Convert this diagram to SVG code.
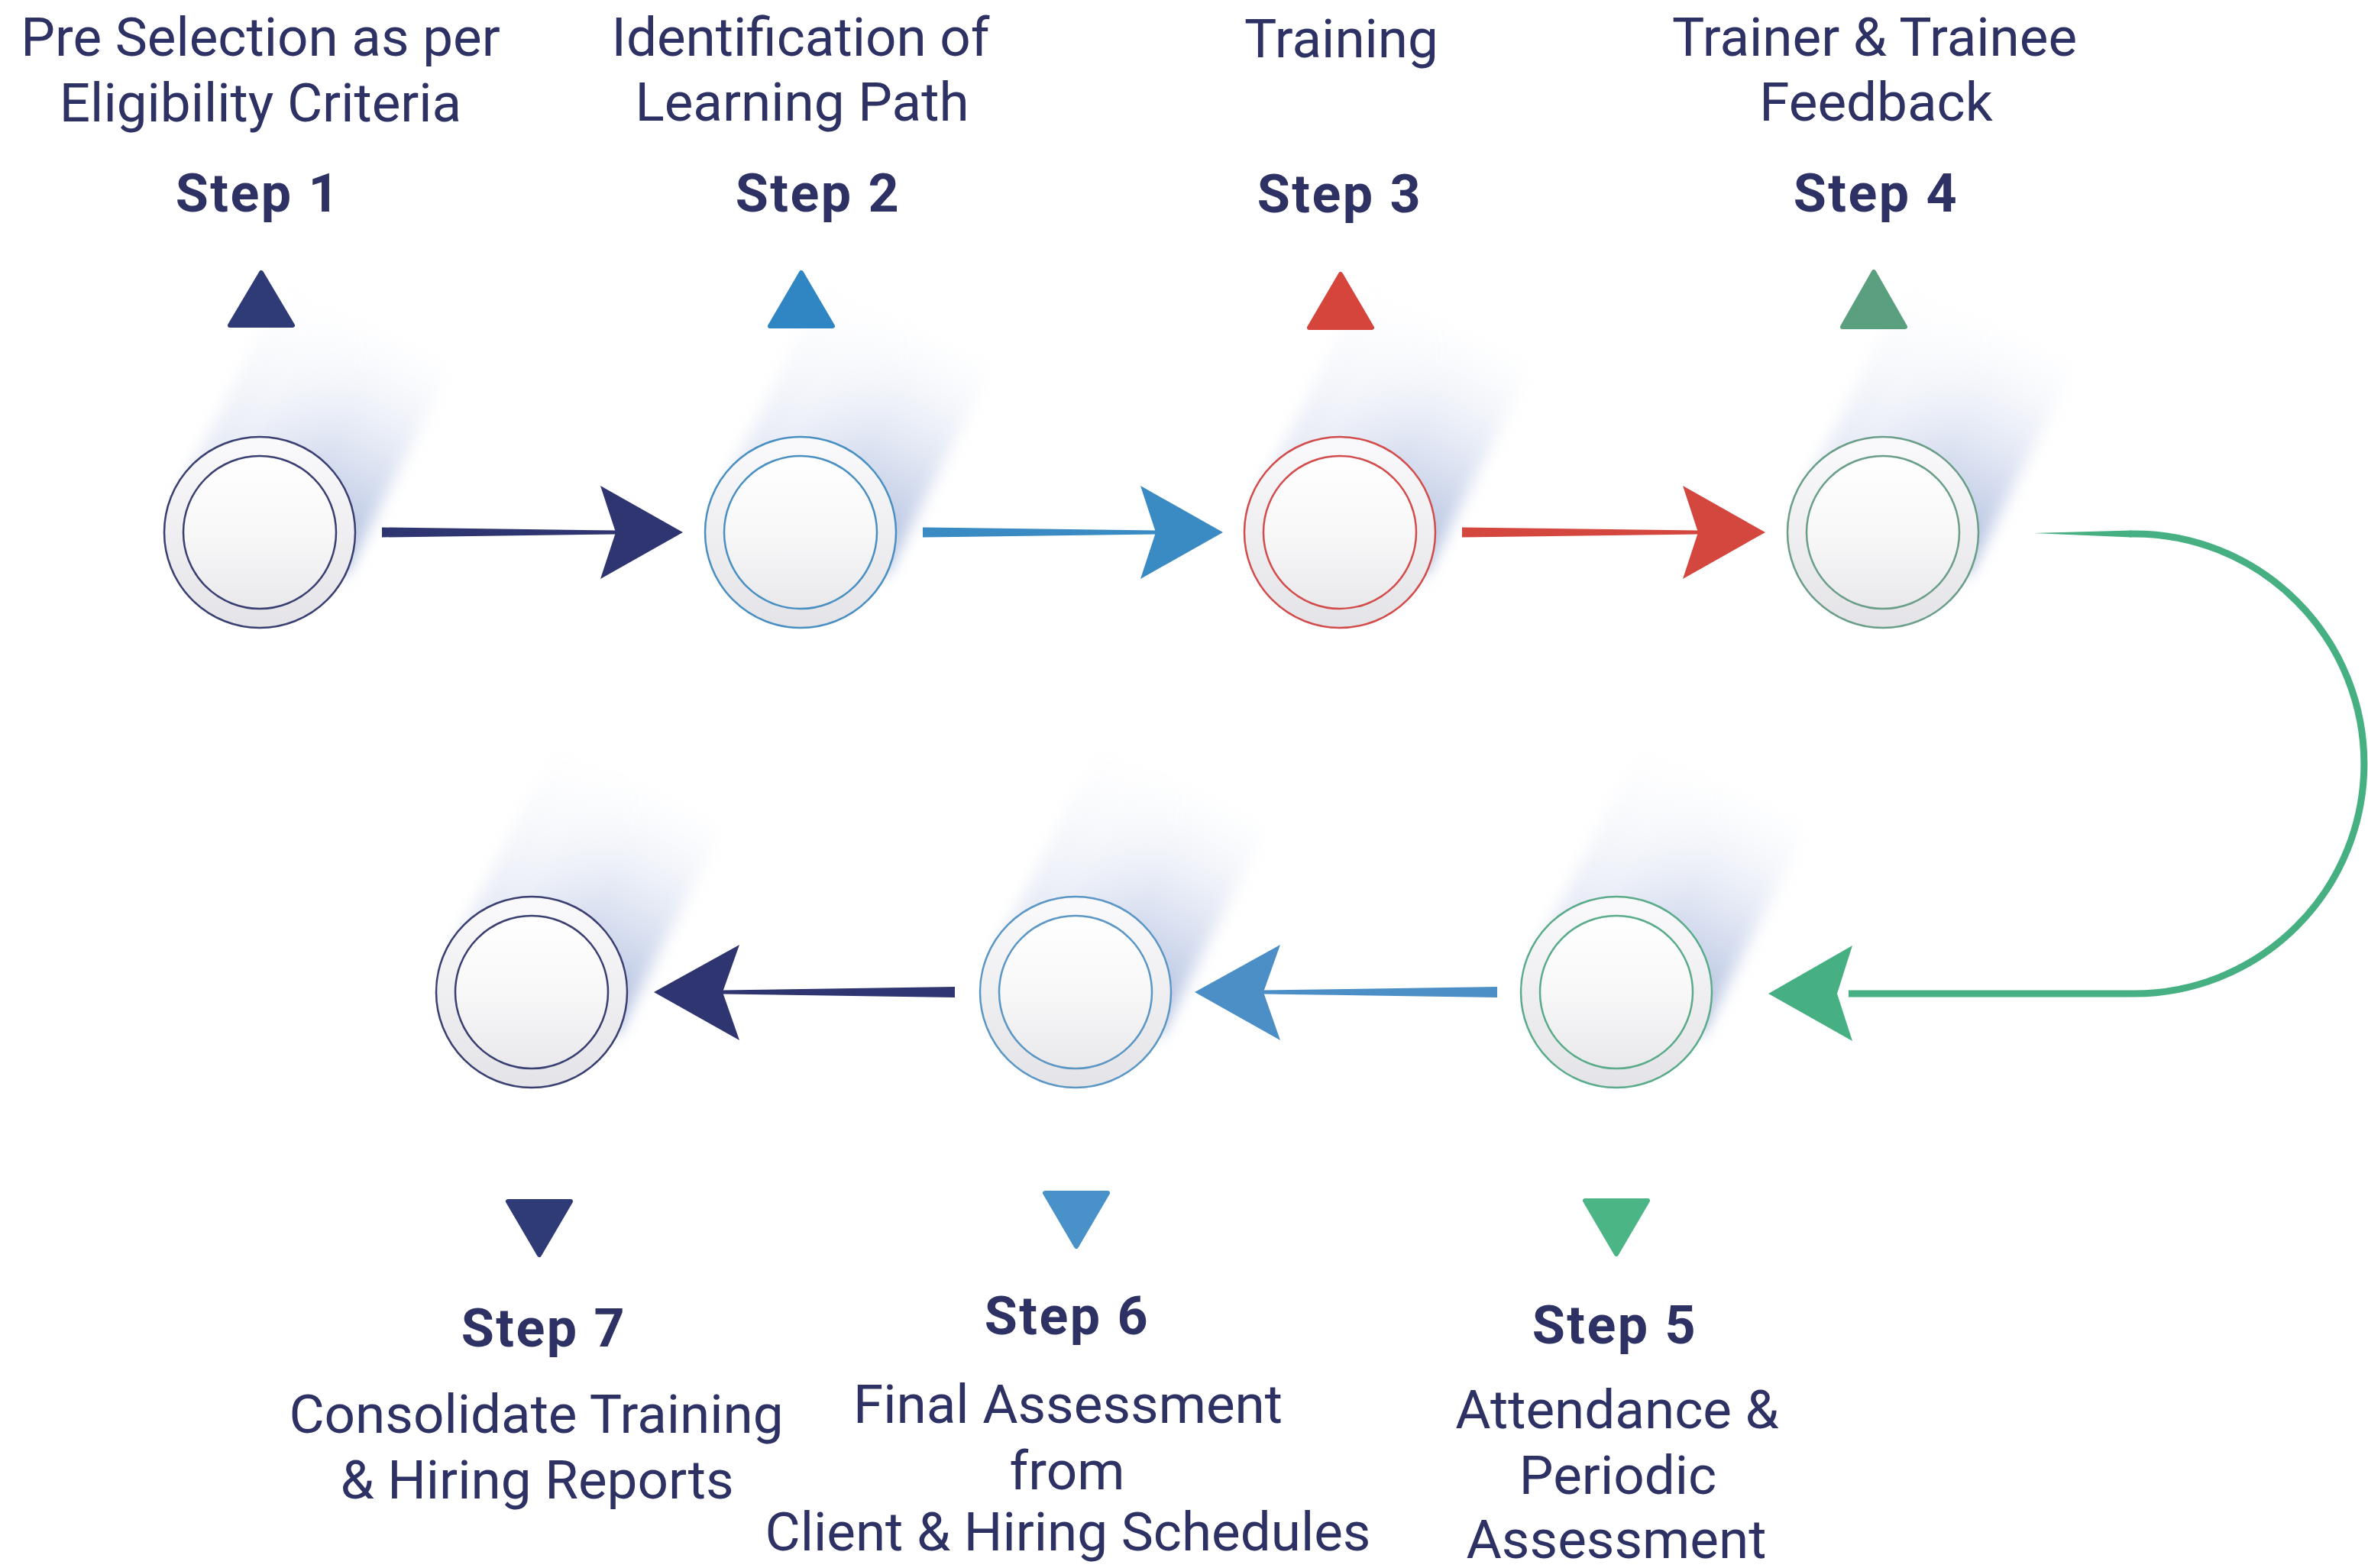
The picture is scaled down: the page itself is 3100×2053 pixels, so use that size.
<svg xmlns="http://www.w3.org/2000/svg" width="3100" height="2053" viewBox="0 0 3100 2053">
<defs>
<style>
.lbl{font-family:Roboto,"Liberation Sans",sans-serif;font-size:71px;fill:#2d3163;text-anchor:middle}
.stp{font-family:Roboto,"Liberation Sans",sans-serif;font-size:70px;font-weight:bold;letter-spacing:2.5px;fill:#2d3163;text-anchor:middle}
.ring{fill:url(#ringG);stroke-width:2.5}
.disc{fill:url(#discG);stroke-width:2.5}
.tri{stroke-width:6;stroke-linejoin:round}
</style>
<linearGradient id="ringG" x1="0" y1="0" x2="0" y2="1">
<stop offset="0" stop-color="#fafafc"/>
<stop offset="1" stop-color="#e4e4e8"/>
</linearGradient>
<linearGradient id="discG" x1="0" y1="0" x2="0" y2="1">
<stop offset="0" stop-color="#ffffff"/>
<stop offset="0.5" stop-color="#f8f8f9"/>
<stop offset="1" stop-color="#e9e9ec"/>
</linearGradient>
<linearGradient id="shG" x1="0" y1="1" x2="0" y2="0">
<stop offset="0" stop-color="#8ea2cf" stop-opacity="0.8"/>
<stop offset="0.4" stop-color="#a6b6dc" stop-opacity="0.45"/>
<stop offset="0.8" stop-color="#c3cfe9" stop-opacity="0.12"/>
<stop offset="1" stop-color="#d4ddef" stop-opacity="0"/>
</linearGradient>
<linearGradient id="shM" x1="0" y1="0" x2="1" y2="0">
<stop offset="0" stop-color="#fff" stop-opacity="0.35"/>
<stop offset="0.3" stop-color="#fff" stop-opacity="0.45"/>
<stop offset="0.6" stop-color="#fff" stop-opacity="1"/>
<stop offset="1" stop-color="#fff" stop-opacity="1"/>
</linearGradient>
<mask id="shMask" maskContentUnits="userSpaceOnUse" x="-260" y="-460" width="520" height="540">
<rect x="-160" y="-440" width="320" height="500" fill="url(#shM)"/>
</mask>
<filter id="blur" x="-50%" y="-50%" width="200%" height="200%">
<feGaussianBlur stdDeviation="10"/>
</filter>
<g id="shadow">
<g mask="url(#shMask)">
<rect x="-118" y="-320" width="243" height="320" fill="url(#shG)" filter="url(#blur)"/>
</g>
</g>
</defs>
<rect width="3100" height="2053" fill="#ffffff"/>

<g id="shadows">
<use href="#shadow" transform="translate(340,697) rotate(27)"/>
<use href="#shadow" transform="translate(1048,697) rotate(27)"/>
<use href="#shadow" transform="translate(1754,697) rotate(27)"/>
<use href="#shadow" transform="translate(2465,697) rotate(27)"/>
<use href="#shadow" transform="translate(696,1299) rotate(27)"/>
<use href="#shadow" transform="translate(1408,1299) rotate(27)"/>
<use href="#shadow" transform="translate(2116,1299) rotate(27)"/>
</g>

<g id="connectors">
<g fill="#2f3570">
<polygon points="500,690.5 806,694.5 806,699.5 500,703.5"/>
<polygon points="894,697 786,636 806,697 786,758"/>
</g>
<g fill="#3a8ac4">
<polygon points="1208,690.5 1513,694.5 1513,699.5 1208,703.5"/>
<polygon points="1601,697 1493,636 1513,697 1493,758"/>
</g>
<g fill="#d4473f">
<polygon points="1914,690.5 2223,694.5 2223,699.5 1914,703.5"/>
<polygon points="2311,697 2203,636 2223,697 2203,758"/>
</g>
<g fill="#46b083">
<polygon points="2662,698 2790,694.5 2790,703.5"/>
<path d="M2788,699 L2794,699 A301,301 0 0 1 2794,1301 L2420,1301" fill="none" stroke="#46b083" stroke-width="9"/>
<polygon points="2315,1301 2425,1238 2405,1301 2425,1363"/>
</g>
<g fill="#4b8fc6">
<polygon points="1960,1292 1654,1296.5 1654,1301.5 1960,1306"/>
<polygon points="1564,1299 1676,1237 1654,1299 1676,1362"/>
</g>
<g fill="#2f3570">
<polygon points="1250,1292 946,1296.5 946,1301.5 1250,1306"/>
<polygon points="856,1299 968,1237 946,1299 968,1362"/>
</g>
</g>

<g id="step1">
<text class="lbl" x="341" y="73">Pre Selection as per</text>
<text class="lbl" x="341" y="159">Eligibility Criteria</text>
<text class="stp" x="338" y="277">Step 1</text>
<path class="tri" fill="#2f3b76" stroke="#2f3b76" d="M342,357 L383,426 L301,426 Z"/>
<circle class="ring" stroke="#3a3f72" cx="340" cy="697" r="125"/>
<circle class="disc" stroke="#3a3f72" cx="340" cy="697" r="100"/>
</g>

<g id="step2">
<text class="lbl" x="1048" y="73">Identification of</text>
<text class="lbl" x="1050" y="158">Learning Path</text>
<text class="stp" x="1071" y="277">Step 2</text>
<path class="tri" fill="#2f86c3" stroke="#2f86c3" d="M1049,357 L1090,427 L1008,427 Z"/>
<circle class="ring" stroke="#4a8fc2" cx="1048" cy="697" r="125"/>
<circle class="disc" stroke="#4a8fc2" cx="1048" cy="697" r="100"/>
</g>

<g id="step3">
<text class="lbl" x="1756" y="75">Training</text>
<text class="stp" x="1754" y="278">Step 3</text>
<path class="tri" fill="#d5453c" stroke="#d5453c" d="M1755,359 L1796,429 L1714,429 Z"/>
<circle class="ring" stroke="#d34c4c" cx="1754" cy="697" r="125"/>
<circle class="disc" stroke="#d34c4c" cx="1754" cy="697" r="100"/>
</g>

<g id="step4">
<text class="lbl" x="2454" y="73">Trainer &amp; Trainee</text>
<text class="lbl" x="2456" y="158">Feedback</text>
<text class="stp" x="2456" y="277">Step 4</text>
<path class="tri" fill="#5aa07e" stroke="#5aa07e" d="M2453,356 L2494,428 L2412,428 Z"/>
<circle class="ring" stroke="#6a9e88" cx="2465" cy="697" r="125"/>
<circle class="disc" stroke="#6a9e88" cx="2465" cy="697" r="100"/>
</g>

<g id="step5">
<circle class="ring" stroke="#5aab8a" cx="2116" cy="1299" r="125"/>
<circle class="disc" stroke="#5aab8a" cx="2116" cy="1299" r="100"/>
<path class="tri" fill="#4cb585" stroke="#4cb585" d="M2075,1572 L2157,1572 L2116,1642 Z"/>
<text class="stp" x="2114" y="1759">Step 5</text>
<text class="lbl" x="2117" y="1870">Attendance &amp;</text>
<text class="lbl" x="2118" y="1956">Periodic</text>
<text class="lbl" x="2116" y="2040">Assessment</text>
</g>

<g id="step6">
<circle class="ring" stroke="#5b96c4" cx="1408" cy="1299" r="125"/>
<circle class="disc" stroke="#5b96c4" cx="1408" cy="1299" r="100"/>
<path class="tri" fill="#4891c9" stroke="#4891c9" d="M1368,1562 L1450,1562 L1409,1632 Z"/>
<text class="stp" x="1397" y="1747">Step 6</text>
<text class="lbl" x="1398" y="1863">Final Assessment</text>
<text class="lbl" x="1397" y="1950">from</text>
<text class="lbl" x="1398" y="2030">Client &amp; Hiring Schedules</text>
</g>

<g id="step7">
<circle class="ring" stroke="#3a3f72" cx="696" cy="1299" r="125"/>
<circle class="disc" stroke="#3a3f72" cx="696" cy="1299" r="100"/>
<path class="tri" fill="#2f3b76" stroke="#2f3b76" d="M665,1573 L747,1573 L706,1643 Z"/>
<text class="stp" x="712" y="1763">Step 7</text>
<text class="lbl" x="702" y="1876">Consolidate Training</text>
<text class="lbl" x="703" y="1962">&amp; Hiring Reports</text>
</g>
</svg>
